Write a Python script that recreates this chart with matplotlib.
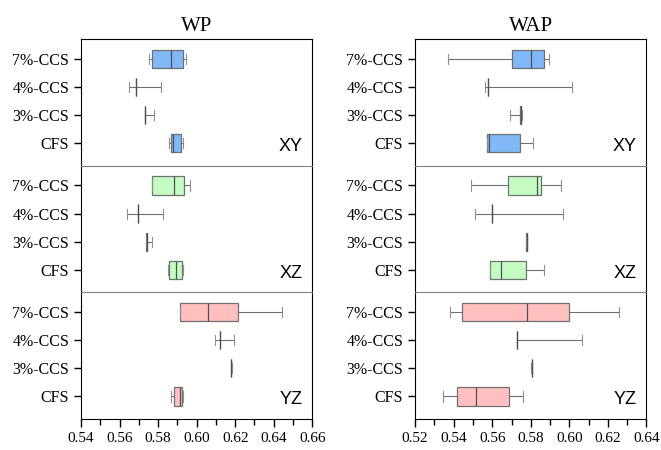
import numpy as np
import matplotlib.pyplot as plt

# categories, bottom to top
categories = ['CFS', '3%-CCS', '4%-CCS', '7%-CCS']
planes = ['XY', 'XZ', 'YZ']
plane_colors = ['#80b8f8', '#c4fcc4', '#ffbfbf']

# stats per category: [whislo, q1, med, q3, whishi]
wp_xy = [[0.5855, 0.5867, 0.5877, 0.5919, 0.5928],
         [0.5730, 0.5731, 0.5732, 0.5733, 0.5779],
         [0.5650, 0.5686, 0.5686, 0.5686, 0.5815],
         [0.5752, 0.5767, 0.5867, 0.5929, 0.5947]]
wp_xz = [[0.5852, 0.5859, 0.5891, 0.5924, 0.5928],
         [0.5736, 0.5738, 0.5740, 0.5741, 0.5767],
         [0.5640, 0.5697, 0.5697, 0.5697, 0.5828],
         [0.5767, 0.5767, 0.5884, 0.5934, 0.5965]]
wp_yz = [[0.5867, 0.5881, 0.5912, 0.5926, 0.5929],
         [0.6176, 0.6177, 0.6178, 0.6180, 0.6181],
         [0.6095, 0.6121, 0.6121, 0.6121, 0.6195],
         [0.5912, 0.5914, 0.6059, 0.6216, 0.6445]]

wap_xy = [[0.5574, 0.5574, 0.5583, 0.5745, 0.5814],
          [0.5692, 0.5746, 0.5747, 0.5748, 0.5757],
          [0.5564, 0.5576, 0.5576, 0.5576, 0.6012],
          [0.5371, 0.5702, 0.5802, 0.5866, 0.5895]]
wap_xz = [[0.5588, 0.5588, 0.5645, 0.5774, 0.5869],
          [0.5775, 0.5776, 0.5778, 0.5780, 0.5781],
          [0.5510, 0.5600, 0.5600, 0.5600, 0.5968],
          [0.5490, 0.5680, 0.5831, 0.5855, 0.5955]]
wap_yz = [[0.5345, 0.5417, 0.5514, 0.5686, 0.5759],
          [0.5803, 0.5804, 0.5805, 0.5806, 0.5807],
          [0.5726, 0.5726, 0.5726, 0.5726, 0.6068],
          [0.5381, 0.5445, 0.5779, 0.5997, 0.6257]]

wp_ticks = [0.54, 0.56, 0.58, 0.60, 0.62, 0.64, 0.66]
wap_ticks = [0.52, 0.54, 0.56, 0.58, 0.60, 0.62, 0.64]

serif = ['Liberation Serif', 'DejaVu Serif']
sans = ['Liberation Sans', 'DejaVu Sans']

fig = plt.figure(figsize=(6.61, 4.50), dpi=100)

columns = [('WP', [wp_xy, wp_xz, wp_yz], wp_ticks, 0.1225),
           ('WAP', [wap_xy, wap_xz, wap_yz], wap_ticks, 0.628)]

top = 0.913
bottom = 0.069
width = 0.350
h = (top - bottom) / 3

for title, panel_data, ticks, left in columns:
    for k in range(3):
        ax = fig.add_axes([left, top - (k + 1) * h, width, h])
        stats = []
        for i, s in enumerate(panel_data[k]):
            stats.append(dict(whislo=s[0], q1=s[1], med=s[2], q3=s[3],
                              whishi=s[4], label=categories[i]))
        ax.bxp(stats, positions=range(len(categories)), vert=False,
               widths=0.65, showfliers=False, patch_artist=True,
               boxprops=dict(facecolor=plane_colors[k], edgecolor='#707070', linewidth=0.9),
               medianprops=dict(color='#505050', linewidth=0.9),
               whiskerprops=dict(color='#707070', linewidth=0.8),
               capprops=dict(color='#909090', linewidth=0.8),
               capwidths=0.36)
        ax.set_xlim(ticks[0], ticks[-1])
        ax.set_ylim(-0.8, 3.7)
        ax.set_yticks(range(len(categories)))
        ax.set_yticklabels(categories, family=serif, fontsize=11.5)
        ax.tick_params(axis='y', direction='out', length=5, width=1)
        ax.text(0.957, 0.15, planes[k], transform=ax.transAxes, ha='right',
                va='center', family=sans, fontsize=13)
        if k > 0:
            ax.spines['top'].set_color('#808080')
        if k < 2:
            ax.spines['bottom'].set_visible(False)
            ax.tick_params(axis='x', bottom=False, labelbottom=False)
        else:
            ax.set_xticks(ticks)
            ax.set_xticks(np.arange(ticks[0] + 0.01, ticks[-1], 0.02), minor=True)
            ax.set_xticklabels(['%.2f' % t for t in ticks], family=serif, fontsize=11)
            ax.tick_params(axis='x', which='major', direction='out', length=6, width=1)
            ax.tick_params(axis='x', which='minor', direction='out', length=4, width=1)
        if k == 0:
            ax.set_title(title, family=serif, fontsize=15, pad=6)

fig.savefig('out.png', dpi=100)
